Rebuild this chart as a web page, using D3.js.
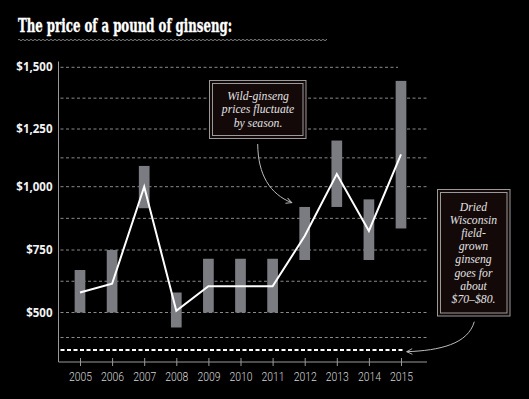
<!DOCTYPE html>
<html>
<head>
<meta charset="utf-8">
<script src="https://cdn.jsdelivr.net/npm/d3@7"></script>
<style>
  html, body { margin: 0; padding: 0; background: #000; }
  svg { display: block; }
</style>
</head>
<body>
<div id="chart"></div>
<script>
// price data (dollars per pound)
var years = [2005, 2006, 2007, 2008, 2009, 2010, 2011, 2012, 2013, 2014, 2015];
var lowPrices = [500, 500, 915, 440, 500, 500, 500, 710, 920, 710, 835];
var highPrices = [670, 750, 1090, 580, 715, 715, 715, 920, 1200, 950, 1445];
var avgPrices = [580, 615, 1000, 507, 605, 605, 605, 805, 1055, 825, 1140];

var yTickValues = [500, 750, 1000, 1250, 1500];
var gridValues = [400, 500, 625, 750, 875, 1000, 1125, 1250, 1375, 1500];
var driedLevel = 350; // where the axis-break line for dried ginseng sits

var titleText = "The price of a pound of ginseng:";
var wildNote = ["Wild-ginseng", "prices fluctuate", "by season."];
var driedNote = ["Dried", "Wisconsin", "field-", "grown", "ginseng", "goes for", "about", "$70\u2013$80."];

function main() {
    var width = 529, height = 399;

    var svg = d3.select("#chart")
        .append("svg")
        .attr("width", width)
        .attr("height", height)
        .style("background", "#000");

    // arrow head
    svg.append("defs").append("marker")
        .attr("id", "head")
        .attr("viewBox", "0 0 10 10")
        .attr("refX", 9).attr("refY", 5)
        .attr("markerWidth", 7).attr("markerHeight", 7)
        .attr("markerUnits", "userSpaceOnUse")
        .attr("orient", "auto")
        .append("path")
        .attr("d", "M1,1 L9,5 L1,9")
        .attr("fill", "none")
        .attr("stroke", "#bbb")
        .attr("stroke-width", 1.3);

    // title + wavy rule
    svg.append("text")
        .attr("x", 18).attr("y", 32)
        .attr("font-family", "DejaVu Serif")
        .attr("font-weight", "900")
        .attr("font-stretch", "condensed")
        .attr("font-size", "19px")
        .attr("textLength", 214)
        .attr("lengthAdjust", "spacingAndGlyphs")
        .attr("fill", "#fff")
        .attr("stroke", "#fff")
        .attr("stroke-width", 0.35)
        .text(titleText);

    var wave = d3.range(18, 327.5, 1).map(function (px) {
        return [px, 40 + 0.8 * Math.sin(px * Math.PI / 2)];
    });
    svg.append("path")
        .attr("d", d3.line().curve(d3.curveBasis)(wave))
        .attr("fill", "none")
        .attr("stroke", "#aaa")
        .attr("stroke-width", 0.9);

    // scales (the printed axis is slightly uneven, so a piecewise scale)
    var x = d3.scalePoint()
        .domain(years)
        .range([80, 401]);
    var y = d3.scaleLinear()
        .domain([300, 500, 750, 1000, 1250, 1500])
        .range([362.5, 312.5, 250, 186.7, 129, 67.3]);

    var left = 58.5, right = 427;

    // gridlines
    svg.append("g").selectAll("line")
        .data(gridValues)
        .enter()
        .append("line")
        .attr("x1", left + 2)
        .attr("x2", function (d) { return d === 1500 ? 398 : right; })
        .attr("y1", function (d) { return y(d); })
        .attr("y2", function (d) { return y(d); })
        .attr("stroke", "#8a8a8a")
        .attr("stroke-width", 1)
        .attr("stroke-dasharray", "3,2.5");

    // y labels
    var yAxis = svg.append("g")
        .attr("transform", "translate(" + (left - 6) + ",0)")
        .call(d3.axisLeft(y).tickValues(yTickValues).tickSize(0).tickPadding(0).tickFormat(d3.format("$,")));
    yAxis.select(".domain").remove();
    yAxis.selectAll("text")
        .attr("font-family", "Open Sans")
        .attr("font-weight", "bold")
        .attr("font-size", "11.5px")
        .attr("fill", "#f2f2f2");

    // dried ginseng line
    svg.append("line")
        .attr("x1", left + 2).attr("x2", 403)
        .attr("y1", y(driedLevel)).attr("y2", y(driedLevel))
        .attr("stroke", "#fff")
        .attr("stroke-width", 2)
        .attr("stroke-dasharray", "4,2.5");

    // axes lines
    svg.append("line")
        .attr("x1", left).attr("x2", left)
        .attr("y1", 61.5).attr("y2", 362)
        .attr("stroke", "#999").attr("stroke-width", 1);

    var xAxis = svg.append("g")
        .attr("transform", "translate(0,362)")
        .call(d3.axisBottom(x).tickSize(4).tickPadding(0));
    xAxis.select(".domain")
        .attr("d", "M" + left + ",0H" + right)
        .attr("stroke", "#999");
    xAxis.selectAll(".tick line")
        .attr("y1", -4).attr("y2", 4)
        .attr("stroke", "#999");
    xAxis.selectAll(".tick text")
        .attr("y", 19).attr("dy", 0)
        .attr("font-family", "Roboto")
        .attr("font-weight", "300")
        .attr("font-size", "13px")
        .attr("textLength", 23)
        .attr("lengthAdjust", "spacingAndGlyphs")
        .attr("fill", "#d6d6d6");

    // range bars
    var barW = 10.7;
    svg.append("g").selectAll("rect")
        .data(years)
        .enter()
        .append("rect")
        .attr("x", function (d) { return x(d) - barW / 2; })
        .attr("y", function (d, i) { return y(highPrices[i]); })
        .attr("width", barW)
        .attr("height", function (d, i) { return y(lowPrices[i]) - y(highPrices[i]); })
        .attr("fill", "#7b7b82");

    // average price line
    svg.append("path")
        .datum(years)
        .attr("d", d3.line()
            .x(function (d) { return x(d); })
            .y(function (d, i) { return y(avgPrices[i]); }))
        .attr("fill", "none")
        .attr("stroke", "#fff")
        .attr("stroke-width", 2)
        .attr("stroke-linejoin", "miter");

    // note boxes
    function noteBox(x0, y0, w, h, lines, cx, firstBase, lh) {
        var g = svg.append("g");
        g.append("rect")
            .attr("x", x0).attr("y", y0).attr("width", w).attr("height", h)
            .attr("fill", "#140909")
            .attr("stroke", "#9a9a9a").attr("stroke-width", 1);
        g.append("rect")
            .attr("x", x0 + 3).attr("y", y0 + 3).attr("width", w - 6).attr("height", h - 6)
            .attr("fill", "none")
            .attr("stroke", "#9a9a9a").attr("stroke-width", 1);
        g.selectAll("text")
            .data(lines)
            .enter()
            .append("text")
            .attr("x", cx)
            .attr("y", function (d, i) { return firstBase + i * lh; })
            .attr("text-anchor", "middle")
            .attr("font-family", "Liberation Serif")
            .attr("font-style", "italic")
            .attr("font-size", "11.7px")
            .attr("fill", "#e2e2e2")
            .text(function (d) { return d; });
    }
    noteBox(209.5, 80.5, 96.5, 58, wildNote, 258, 99.5, 13.5);
    noteBox(437.5, 189.5, 72.5, 126.5, driedNote, 473.5, 210.5, 13.2);

    // arrows
    svg.append("path")
        .attr("d", "M257.7,144 C258,175 270,194 291.7,202.7")
        .attr("fill", "none").attr("stroke", "#bbb").attr("stroke-width", 1)
        .attr("marker-end", "url(#head)");
    svg.append("path")
        .attr("d", "M474.3,321.7 C468,344 440,350.5 406.7,351.7")
        .attr("fill", "none").attr("stroke", "#bbb").attr("stroke-width", 1)
        .attr("marker-end", "url(#head)");
}
window.addEventListener('load', main);
</script>
</body>
</html>
